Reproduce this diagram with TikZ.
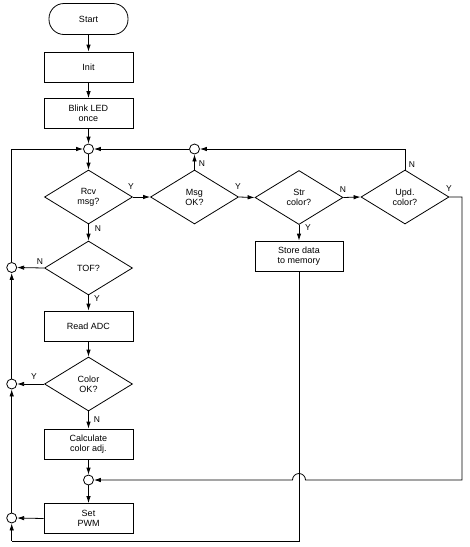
\documentclass[tikz,border=0pt]{standalone}
\usepackage{fontspec}
\setmainfont{Liberation Sans}
\usetikzlibrary{shapes.geometric,arrows.meta}
\begin{document}
\begin{tikzpicture}[x=1pt,y=-1pt,
  every node/.style={font=\fontsize{9}{10}\selectfont,align=center,text=black},
  term/.style={draw,rounded corners=15pt,minimum width=79pt,minimum height=31pt,inner sep=0pt,line width=0.8pt},
  proc/.style={draw,rectangle,minimum width=89pt,minimum height=30pt,inner sep=0pt,line width=0.8pt},
  dec/.style={draw,diamond,aspect=1.6,minimum width=88pt,minimum height=54pt,inner sep=0pt,line width=0.8pt},
  junc/.style={draw,circle,minimum size=10pt,inner sep=0pt,line width=0.8pt},
  lbl/.style={inner sep=0pt,font=\fontsize{8.5}{9}\selectfont},
  arr/.style={line width=0.8pt,-{Latex[length=7pt,width=4.5pt]}},
  ln/.style={line width=0.8pt}]
\useasboundingbox (0,0) rectangle (470,547);

% nodes
\node[term] (start) at (88.5,19) {Start};
\node[proc] (init) at (88.5,67) {Init};
\node[proc] (blink) at (88.5,113.5) {Blink LED\\once};
\node[junc] (c1) at (88.5,149) {};
\node[junc] (c2) at (194.5,149) {};
\node[dec] (rcv) at (88.5,197) {Rcv\\msg?};
\node[dec] (msg) at (194.5,197) {Msg\\OK?};
\node[dec] (str) at (299,197.5) {Str\\color?};
\node[dec] (upd) at (405,197) {Upd.\\color?};
\node[proc,minimum width=88pt] (store) at (299,256) {Store data\\to memory};
\node[dec] (tof) at (88.5,268) {TOF?};
\node[junc] (ct) at (11.7,267.5) {};
\node[proc] (adc) at (88.5,326) {Read ADC};
\node[dec] (col) at (88.5,384) {Color\\OK?};
\node[junc] (c4) at (11.7,384) {};
\node[proc] (calc) at (88.5,444) {Calculate\\color adj.};
\node[junc] (c3) at (88.5,480) {};
\node[proc] (pwm) at (88.5,518.5) {Set\\PWM};
\node[junc] (c5) at (11.7,518) {};

% helper coordinates
\coordinate (ur) at (462,197);
\coordinate (urb) at (462,480);
\coordinate (hopR) at (305.5,480);
\coordinate (hopL) at (292.5,480);
\coordinate (br) at (299,541);
\coordinate (bl) at (11.7,541);

% main column
\draw[arr] (start) -- (init);
\draw[arr] (init) -- (blink);
\draw[arr] (blink) -- (c1);
\draw[arr] (c1) -- (rcv);
\draw[arr] (rcv) -- (tof);
\draw[arr] (tof) -- (adc);
\draw[arr] (adc) -- (col);
\draw[arr] (col) -- (calc);
\draw[arr] (calc) -- (c3);
\draw[arr] (c3) -- (pwm);

% top row
\draw[arr] (rcv.east) -- (msg.west);
\draw[arr] (msg.east) -- (str.west);
\draw[arr] (str.east) -- (upd.west);
\draw[arr] (msg.north) -- (c2.south);
\draw[arr] (c2) -- (c1);
\draw[arr] (upd.north) |- (c2.east);
\draw[arr] (str.south) -- (store.north);
\draw[ln] (store.south) -- (br) -- (bl);
\draw[arr] (bl) -- (c5.south);
\draw[arr] (upd.east) -- (ur) -- (urb) -- (hopR) arc[start angle=0,end angle=-180,radius=6.5] -- (c3.east);

% left loop
\draw[arr] (tof.west) -- (ct.east);
\draw[arr] (col.west) -- (c4.east);
\draw[arr] (pwm.west) -- (c5.east);
\draw[arr] (c5) -- (c4);
\draw[arr] (c4) -- (ct);
\draw[arr] (ct.north) |- (c1.west);

% labels
\node[lbl] (l1) at (131,187) {Y};
\node[lbl] (l2) at (238,187) {Y};
\node[lbl] (l3) at (343,190) {N};
\node[lbl] (l4) at (449,189) {Y};
\node[lbl] (l5) at (202,164) {N};
\node[lbl] (l6) at (412,165) {N};
\node[lbl] (l7) at (98,229) {N};
\node[lbl] (l8) at (308,228) {Y};
\node[lbl] (l9) at (40,262) {N};
\node[lbl] (l10) at (97,299) {Y};
\node[lbl] (l11) at (34,377) {Y};
\node[lbl] (l12) at (97,420) {N};
\end{tikzpicture}
\end{document}
